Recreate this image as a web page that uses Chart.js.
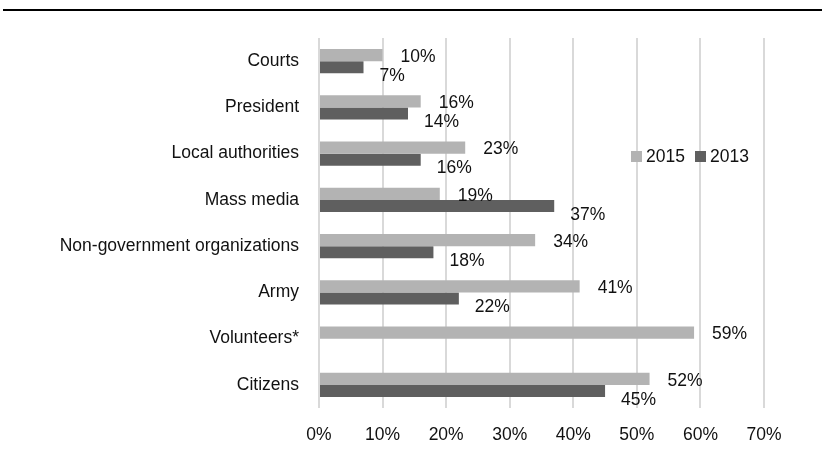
<!DOCTYPE html>
<html>
<head>
<meta charset="utf-8">
<script src="https://cdn.jsdelivr.net/npm/chart.js@4"></script>
<style>
    body { margin: 0; background: #fff; }
    #wrap { position: relative; width: 825px; height: 450px; }
    #legend {
        position: absolute; left: 631px; top: 146px;
        font-family: "Liberation Sans", Arial, sans-serif;
        font-size: 17.5px; color: #111; display: flex; align-items: center;
    }
    #legend span.box { display: inline-block; width: 11px; height: 11px; margin-right: 4px; }
    #legend span.item { display: inline-flex; align-items: center; margin-right: 10px; }
</style>
</head>
<body>
<div id="wrap">
    <canvas id="chart" width="825" height="450"></canvas>
    <div id="legend"></div>
</div>
<script>
// Chart data
const categories = ['Courts', 'President', 'Local authorities', 'Mass media',
    'Non-government organizations', 'Army', 'Volunteers*', 'Citizens'];
const values2015 = [10, 16, 23, 19, 34, 41, 59, 52];
const values2013 = [7, 14, 16, 37, 18, 22, null, 45];
const xTicks = [0, 10, 20, 30, 40, 50, 60, 70];

const FONT = '"Liberation Sans", Arial, sans-serif';
const colors = { y2015: '#b3b3b3', y2013: '#5f5f5f' };

// Value labels to the right of each bar
const valueLabels = {
    id: 'valueLabels',
    afterDatasetsDraw(chart) {
        const ctx = chart.ctx;
        ctx.save();
        ctx.font = '17.5px ' + FONT;
        ctx.fillStyle = '#111';
        ctx.textBaseline = 'middle';
        chart.data.datasets.forEach((ds, i) => {
            const meta = chart.getDatasetMeta(i);
            const dx = i === 0 ? 18 : 16;
            const dy = i === 0 ? 2 : 9;
            meta.data.forEach((bar, j) => {
                if (ds.data[j] == null) return;
                ctx.fillText(ds.data[j] + '%', bar.x + dx, bar.y + dy);
            });
        });
        ctx.restore();
    }
};

// Black rule across the top
const topRule = {
    id: 'topRule',
    beforeDraw(chart) {
        const ctx = chart.ctx;
        ctx.save();
        ctx.strokeStyle = '#000';
        ctx.lineWidth = 2;
        ctx.beginPath();
        ctx.moveTo(3, 10);
        ctx.lineTo(822, 10);
        ctx.stroke();
        ctx.restore();
    }
};

const chart = new Chart(document.getElementById('chart'), {
    type: 'bar',
    data: {
        labels: categories,
        datasets: [
            { label: '2015', data: values2015, backgroundColor: colors.y2015 },
            { label: '2013', data: values2013, backgroundColor: colors.y2013 }
        ]
    },
    options: {
        indexAxis: 'y',
        responsive: false,
        animation: false,
        events: [],
        layout: { padding: { top: 38, right: 61, bottom: 0, left: 0 } },
        categoryPercentage: 0.52,
        barPercentage: 1,
        plugins: { legend: { display: false }, tooltip: { enabled: false } },
        scales: {
            x: {
                min: 0,
                max: 70,
                afterBuildTicks: (axis) => { axis.ticks = xTicks.map(v => ({ value: v })); },
                afterFit: (axis) => { axis.height = 42; },
                grid: { color: '#d9d9d9', lineWidth: 2, drawTicks: false },
                border: { display: false },
                ticks: {
                    padding: 17,
                    color: '#111',
                    font: { family: FONT, size: 17.5 },
                    callback: (v) => v + '%'
                }
            },
            y: {
                afterFit: (axis) => { axis.width = 319; },
                grid: { display: false, drawTicks: false },
                border: { display: false },
                ticks: {
                    padding: 20,
                    color: '#111',
                    font: { family: FONT, size: 17.5 }
                }
            }
        }
    },
    plugins: [valueLabels, topRule]
});

// Legend
document.getElementById('legend').innerHTML = chart.data.datasets.map(ds =>
    `<span class="item"><span class="box" style="background:${ds.backgroundColor}"></span>${ds.label}</span>`
).join('');
</script>
</body>
</html>
